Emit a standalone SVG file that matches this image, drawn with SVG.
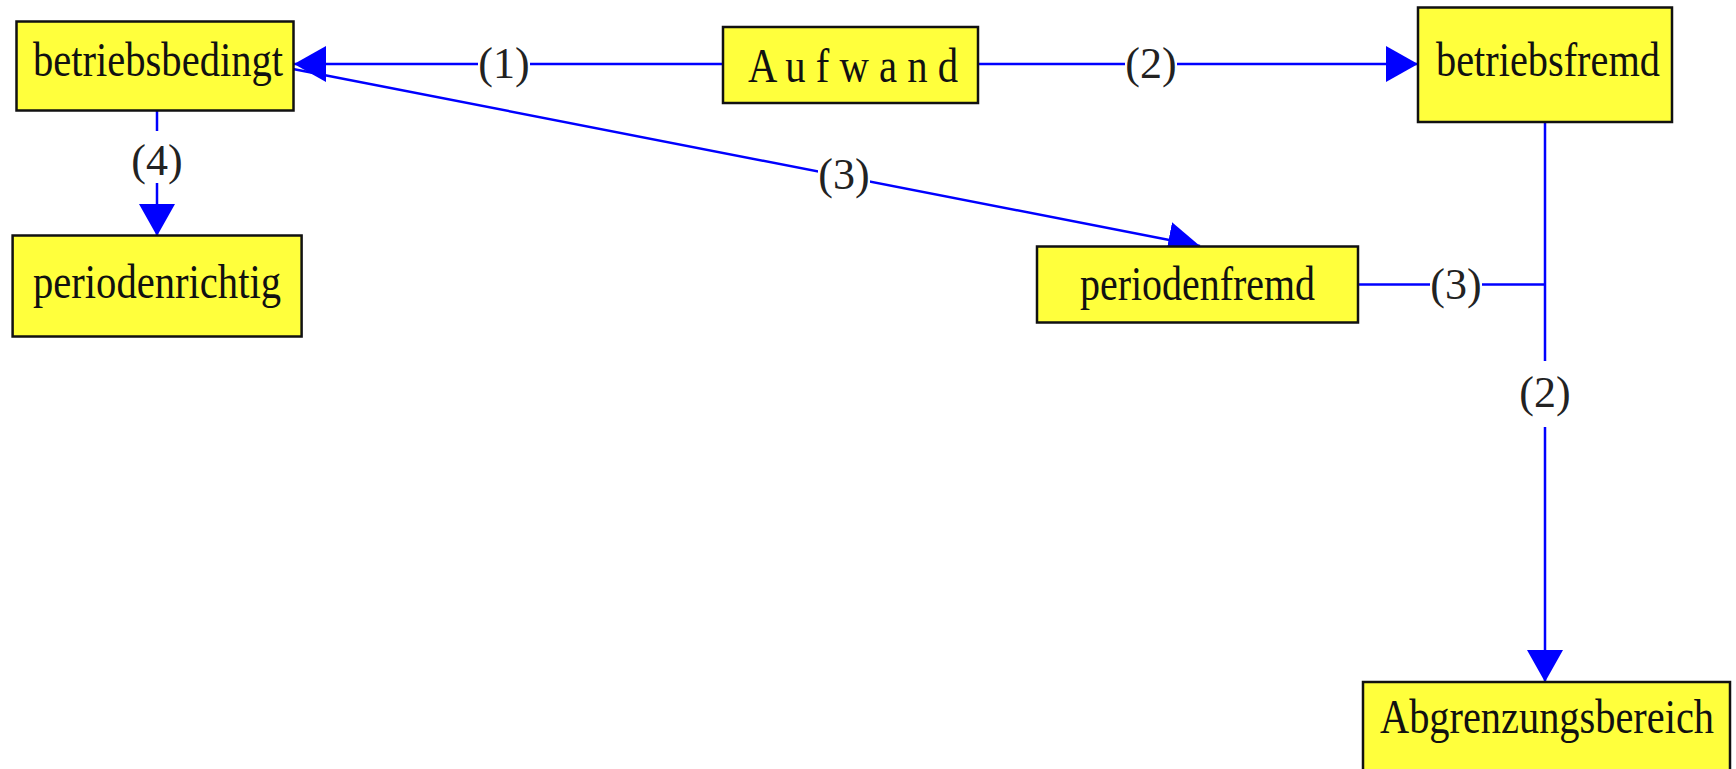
<svg xmlns="http://www.w3.org/2000/svg" width="1736" height="769" viewBox="0 0 1736 769">
<defs>
<marker id="arr" markerUnits="userSpaceOnUse" markerWidth="32" markerHeight="36" viewBox="0 0 32 36" refX="32" refY="18" orient="auto">
<path d="M0,0 L32,18 L0,36 z" fill="#0000ff"/>
</marker>
<style>
.box{fill:#ffff3c;stroke:#111;stroke-width:2.5}
.nt{font-family:"Liberation Serif","Times New Roman",serif;font-size:48px;fill:#111}
.edge{stroke:#0000ff;stroke-width:2.5;fill:none}
.lb{font-family:"Liberation Serif","Times New Roman",serif;font-size:44px;fill:#222;text-anchor:middle}
.bg{fill:#fff}
</style>
</defs>
<rect width="1736" height="769" fill="#fff"/>
<g id="edges">
<line class="edge" x1="723" y1="64" x2="294" y2="64" marker-end="url(#arr)"/>
<line class="edge" x1="978" y1="64" x2="1418" y2="64" marker-end="url(#arr)"/>
<line class="edge" x1="293" y1="69" x2="1200" y2="246" stroke="#2a2aff" stroke-width="2.2" marker-end="url(#arr)"/>
<line class="edge" x1="157" y1="108" x2="157" y2="236" marker-end="url(#arr)"/>
<line class="edge" x1="1357" y1="284.5" x2="1545" y2="284.5"/>
<line class="edge" x1="1545" y1="122" x2="1545" y2="682" marker-end="url(#arr)"/>
<rect class="bg" x="478" y="41" width="52" height="46"/>
<text class="lb" x="504" y="78">(1)</text>
<rect class="bg" x="1125" y="41" width="52" height="46"/>
<text class="lb" x="1151" y="78">(2)</text>
<rect class="bg" x="818" y="152" width="52" height="46"/>
<text class="lb" x="844" y="189">(3)</text>
<rect class="bg" x="131" y="131" width="52" height="52"/>
<text class="lb" x="157" y="175">(4)</text>
<rect class="bg" x="1430" y="262" width="52" height="46"/>
<text class="lb" x="1456" y="299">(3)</text>
<rect class="bg" x="1519" y="361" width="52" height="66"/>
<text class="lb" x="1545" y="407">(2)</text>
</g>
<g id="betriebsbedingt">
<rect class="box" x="16.5" y="21.5" width="277" height="89"/>
<text class="nt" x="33" y="76" textLength="250" lengthAdjust="spacingAndGlyphs">betriebsbedingt</text>
</g>
<g id="aufwand">
<rect class="box" x="723" y="27" width="255" height="76"/>
<text class="nt" x="748" y="82" textLength="210" lengthAdjust="spacingAndGlyphs">A u f w a n d</text>
</g>
<g id="betriebsfremd">
<rect class="box" x="1418" y="7.5" width="254" height="114.5"/>
<text class="nt" x="1436" y="76" textLength="224" lengthAdjust="spacingAndGlyphs">betriebsfremd</text>
</g>
<g id="periodenrichtig">
<rect class="box" x="12.6" y="235.5" width="289" height="101"/>
<text class="nt" x="33" y="298" textLength="248" lengthAdjust="spacingAndGlyphs">periodenrichtig</text>
</g>
<g id="periodenfremd">
<rect class="box" x="1037" y="246.5" width="321" height="76"/>
<text class="nt" x="1080" y="300" textLength="235" lengthAdjust="spacingAndGlyphs">periodenfremd</text>
</g>
<g id="abgrenzungsbereich">
<rect class="box" x="1363" y="682" width="367" height="100"/>
<text class="nt" x="1380" y="733" textLength="334" lengthAdjust="spacingAndGlyphs">Abgrenzungsbereich</text>
</g>
</svg>
